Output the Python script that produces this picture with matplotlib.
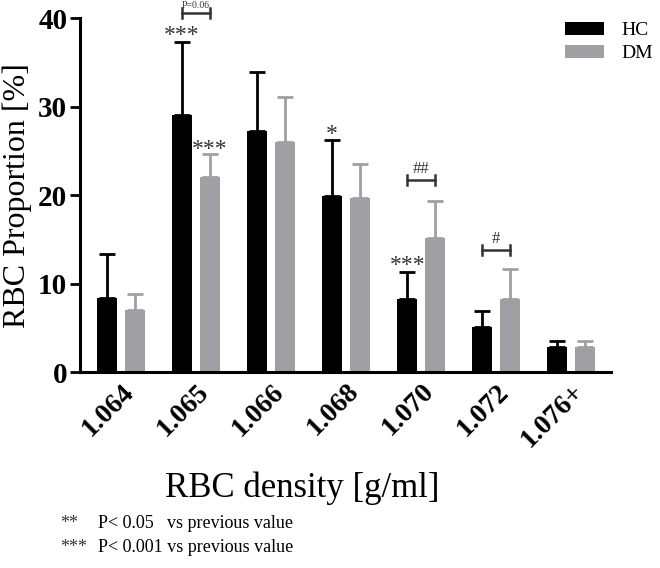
import matplotlib.pyplot as plt
import numpy as np

# data
densities = ['1.064', '1.065', '1.066', '1.068', '1.070', '1.072', '1.076+']
hc_mean = [8.4, 29.0, 27.3, 19.9, 8.3, 5.1, 2.8]
hc_err = [4.9, 8.3, 6.6, 6.3, 3.0, 1.8, 0.7]
dm_mean = [7.0, 22.1, 26.0, 19.7, 15.1, 8.3, 2.8]
dm_err = [1.8, 2.5, 5.1, 3.8, 4.2, 3.3, 0.7]

plt.rcParams['font.family'] = ['Liberation Serif', 'DejaVu Serif']

black = '#000000'
gray = '#a0a0a4'
star_col = '#333333'

fig = plt.figure(figsize=(6.6, 5.68), dpi=100)
ax = fig.add_axes([0.121, 0.345, 0.805, 0.623])

x = np.arange(len(densities))
w = 0.267
off = 0.187

ax.bar(x - off, hc_mean, w, color=black, label='HC')
ax.bar(x + off, dm_mean, w, color=gray, label='DM')
ax.errorbar(x - off, hc_mean, yerr=[np.zeros(len(x)), hc_err], fmt='none',
            ecolor=black, elinewidth=2, capsize=6, capthick=2)
ax.errorbar(x + off, dm_mean, yerr=[np.zeros(len(x)), dm_err], fmt='none',
            ecolor=gray, elinewidth=2, capsize=6, capthick=2)

ax.set_xlim(-0.547, 6.53)
ax.set_ylim(0, 40)
ax.set_yticks([0, 10, 20, 30, 40])
ax.set_xticks(x)
ax.set_xticklabels(densities, rotation=45, ha='right', va='top',
                   rotation_mode='anchor', fontweight='bold', fontsize=20)
for lab in ax.get_yticklabels():
    lab.set_fontweight('bold')
    lab.set_fontsize(21)
ax.tick_params(axis='y', length=7, width=2, pad=2)
ax.tick_params(axis='x', length=0, pad=5)
for s in ['top', 'right']:
    ax.spines[s].set_visible(False)
for s in ['left', 'bottom']:
    ax.spines[s].set_linewidth(2.2)

ax.set_ylabel('RBC Proportion [%]', fontsize=23)
ax.yaxis.set_label_coords(-0.09, 0.5)
fig.text(302 / 660, 1 - 488 / 568, 'RBC density [g/ml]', fontsize=25,
         ha='center', va='center')

# significance marks
ax.text(1 - off, 38.0, '***', ha='center', va='center', fontsize=17, color=star_col)
ax.text(1 + off, 25.2, '***', ha='center', va='center', fontsize=17, color=star_col)
ax.text(3 - off, 26.9, '*', ha='center', va='center', fontsize=17, color=star_col)
ax.text(4 - off, 12.0, '***', ha='center', va='center', fontsize=17, color=star_col)


def bracket(i, y, txt, size):
    ax.plot([i - off, i + off], [y, y], color=star_col, lw=1.8, clip_on=False)
    for xx in (i - off, i + off):
        ax.plot([xx, xx], [y - 0.55, y + 0.55], color=star_col, lw=1.8, clip_on=False)
    ax.text(i, y + 0.3, txt, ha='center', va='bottom', fontsize=size,
            color=star_col, clip_on=False)


bracket(1, 40.6, 'P=0.06', 7)
bracket(4, 21.7, '##', 12)
bracket(5, 13.8, '#', 12)

ax.legend(loc='upper left', bbox_to_anchor=(0.88, 1.04), frameon=False,
          fontsize=14, handlelength=2.0, handleheight=0.65, handletextpad=0.9,
          labelspacing=0.3)

fig.text(60 / 660, 1 - 523 / 568, '**', fontsize=13, va='center', color=star_col)
fig.text(98 / 660, 1 - 523 / 568, 'P< 0.05', fontsize=13, va='center')
fig.text(167 / 660, 1 - 523 / 568, 'vs previous value', fontsize=13, va='center')
fig.text(60 / 660, 1 - 548 / 568, '***', fontsize=13, va='center', color=star_col)
fig.text(98 / 660, 1 - 548 / 568, 'P< 0.001 vs previous value', fontsize=13, va='center')

fig.savefig('out.png', dpi=100)
